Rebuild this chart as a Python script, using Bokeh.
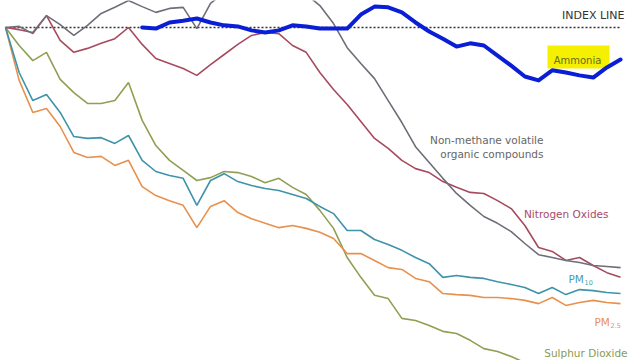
from bokeh.plotting import figure
from bokeh.models import Range1d, Label, BoxAnnotation
from bokeh.embed import file_html
from bokeh.resources import INLINE

years = list(range(1970, 2016))
ammonia_years = list(range(1980, 2016))

nmvoc = [100.0, 100.3, 98.3, 103.3, 100.8, 97.8, 100.6, 103.9, 105.6, 107.5,
         105.8, 104.2, 105.3, 105.6, 99.7, 106.7, 109.7, 111.4, 112.5, 113.1,
         112.5, 111.4, 109.2, 106.1, 101.1, 94.4, 90.0, 85.8, 79.7, 73.6,
         66.9, 62.5, 58.1, 53.9, 50.6, 47.5, 45.6, 43.3, 40.0, 36.9,
         36.1, 35.3, 34.7, 33.9, 33.6, 33.3]
nox = [100.0, 99.4, 98.6, 103.3, 96.4, 93.1, 94.2, 95.6, 96.9, 100.0,
       95.3, 91.4, 90.0, 88.6, 86.7, 89.7, 92.5, 95.3, 97.8, 98.6,
       98.3, 95.0, 93.1, 87.5, 82.8, 78.6, 73.9, 69.2, 66.4, 63.1,
       60.8, 59.7, 57.2, 55.6, 54.2, 53.9, 51.9, 49.7, 45.0, 38.9,
       37.8, 35.3, 36.1, 33.9, 31.9, 30.6]
ammonia = [100.0, 99.7, 101.4, 101.9, 102.5, 101.4, 100.6, 100.3, 99.2, 98.6,
           99.2, 100.6, 100.3, 99.7, 99.7, 99.7, 103.6, 105.8, 105.6, 104.2,
           101.4, 98.9, 96.9, 94.7, 95.6, 95.0, 92.2, 89.4, 86.4, 85.3,
           88.1, 87.5, 86.7, 86.1, 88.9, 91.1]
so2 = [100.0, 95.0, 90.8, 93.1, 85.6, 81.9, 78.9, 78.9, 79.7, 84.7,
       74.2, 67.2, 63.1, 60.3, 57.5, 58.3, 60.0, 59.7, 58.6, 56.9,
       58.1, 55.6, 53.6, 49.2, 44.2, 36.1, 30.6, 25.6, 24.7, 19.2,
       18.6, 17.2, 15.6, 15.0, 13.1, 10.8, 10.0, 8.6, 6.9, 6.1,
       5.3, 4.4, 3.9, 3.3, 2.8, 2.5]
pm10 = [100.0, 87.5, 79.7, 81.4, 76.4, 69.7, 69.2, 69.4, 67.8, 70.0,
        63.1, 60.0, 58.9, 58.1, 50.6, 57.5, 59.4, 57.2, 56.1, 55.3,
        54.7, 53.6, 52.5, 50.3, 48.3, 43.6, 43.6, 41.1, 39.7, 38.1,
        36.1, 34.4, 30.6, 31.1, 30.6, 30.3, 29.4, 28.6, 27.8, 26.1,
        27.8, 25.8, 27.2, 26.9, 26.4, 26.1]
pm25 = [100.0, 85.3, 76.4, 77.5, 72.5, 65.3, 63.9, 64.2, 61.7, 63.1,
        55.8, 53.3, 51.9, 50.6, 44.4, 50.3, 51.9, 48.6, 46.9, 45.6,
        44.4, 45.0, 44.2, 43.1, 41.4, 37.2, 37.2, 35.3, 33.3, 32.8,
        30.3, 29.4, 26.1, 25.8, 25.6, 25.0, 25.0, 24.7, 24.2, 23.3,
        25.0, 22.8, 23.6, 24.2, 23.6, 23.3]
index_years = [1970, 2015]
index_level = [100, 100]

W, H = 640, 360
p = figure(width=W, height=H, output_backend="svg", toolbar_location=None,
           x_range=Range1d(1969.634, 2016.46), y_range=Range1d(7.5, 107.5),
           x_axis_type=None, y_axis_type=None, min_border=0)
p.grid.visible = False
p.outline_line_color = None
p.background_fill_color = "white"
p.border_fill_color = "white"

p.add_layout(BoxAnnotation(left=547, right=609, top=H - 45, bottom=H - 68,
                           left_units="screen", right_units="screen",
                           top_units="screen", bottom_units="screen",
                           fill_color="#f4f000", fill_alpha=1.0,
                           line_color=None, level="underlay"))

p.line(index_years, index_level, line_color="#333333", line_width=1.6,
       line_dash="2 2")

lw = 1.6
p.line(years, so2, line_color="#8fa052", line_width=lw)
p.line(years, pm25, line_color="#e8904c", line_width=lw)
p.line(years, pm10, line_color="#3f93a8", line_width=lw)
p.line(years, nox, line_color="#a84a5e", line_width=lw)
p.line(years, nmvoc, line_color="#6e6e7a", line_width=lw)
p.line(ammonia_years, ammonia, line_color="#6a86c8", line_width=1.5)
p.line(ammonia_years, ammonia, line_color="#0a1ed6", line_width=4,
       line_join="round", line_cap="round")

font = "DejaVu Sans"


def lab(text, x, y, color, size="10.5px", align="left"):
    p.add_layout(Label(x=x, y=H - y, x_units="screen", y_units="screen",
                       text=text, text_color=color, text_font=font,
                       text_font_size=size, text_align=align,
                       text_baseline="middle"))


lab("INDEX LINE", 624, 15, "#333333", size="11px", align="right")
lab("Ammonia", 577, 60, "#6a6a20", size="10px", align="center")
lab("Non-methane volatile", 543, 139, "#666666", align="right")
lab("organic compounds", 543, 153, "#666666", align="right")
lab("Nitrogen Oxides", 608, 213, "#a84a6a", align="right")
lab("PM", 568, 278, "#4a9cb4")
lab("10", 584, 282, "#4a9cb4", size="6.5px")
lab("PM", 594, 321, "#e8904c")
lab("2.5", 610, 325, "#e8904c", size="6.5px")
lab("Sulphur Dioxide", 627, 352, "#8a9a52", align="right")

open("out.html", "w").write(file_html(p, INLINE))
